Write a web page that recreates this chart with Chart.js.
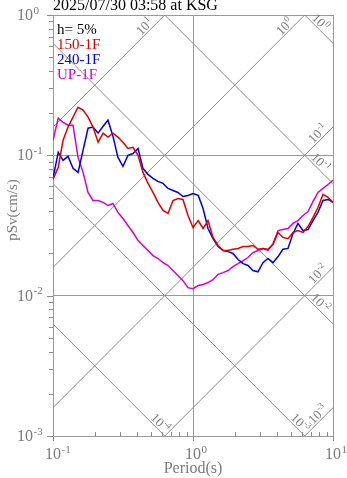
<!DOCTYPE html>
<html>
<head>
<meta charset="utf-8">
<script src="https://cdn.jsdelivr.net/npm/chart.js@4/dist/chart.umd.min.js"></script>
<style>
  body { margin: 0; background: #fff; }
  #wrap { width: 347px; height: 478px; }
</style>
</head>
<body>
<div id="wrap"><canvas id="espectro" width="347" height="478"></canvas></div>
<script>
// Período (s)
const periodos = [0.100, 0.109, 0.118, 0.128, 0.139, 0.151, 0.164, 0.178, 0.193, 0.210,
  0.228, 0.247, 0.268, 0.291, 0.316, 0.343, 0.373, 0.405, 0.439, 0.477,
  0.518, 0.562, 0.611, 0.663, 0.720, 0.781, 0.848, 0.921, 1.00, 1.09,
  1.18, 1.28, 1.39, 1.51, 1.64, 1.78, 1.93, 2.10, 2.28, 2.47,
  2.68, 2.91, 3.16, 3.43, 3.73, 4.05, 4.39, 4.77, 5.18, 5.62,
  6.11, 6.63, 7.20, 7.81, 8.48, 9.21, 10.0];

// pSv (cm/s) de cada componente, h = 5%
const sv150 = [0.0674, 0.0821, 0.128, 0.159, 0.187, 0.220, 0.210, 0.187, 0.159, 0.124,
  0.144, 0.135, 0.144, 0.135, 0.124, 0.112, 0.114, 0.100, 0.0756, 0.0631,
  0.0544, 0.0462, 0.0405, 0.0385, 0.0477, 0.0493, 0.0485, 0.0373, 0.0306, 0.0343,
  0.0301, 0.0343, 0.0260, 0.0228, 0.0210, 0.0210, 0.0214, 0.0217, 0.0224, 0.0224,
  0.0228, 0.0214, 0.0217, 0.0214, 0.0231, 0.0282, 0.0260, 0.0255, 0.0282, 0.0291,
  0.0282, 0.0311, 0.0361, 0.0425, 0.0527, 0.0501, 0.0462];
const sv240 = [0.0685, 0.105, 0.0921, 0.0984, 0.0808, 0.0756, 0.109, 0.156, 0.159, 0.144,
  0.161, 0.178, 0.137, 0.0967, 0.0834, 0.100, 0.103, 0.112, 0.0808, 0.0732,
  0.0685, 0.0652, 0.0631, 0.0581, 0.0562, 0.0544, 0.0509, 0.0518, 0.0535, 0.0518,
  0.0418, 0.0301, 0.0255, 0.0224, 0.0210, 0.0206, 0.0200, 0.0181, 0.0169, 0.0164,
  0.0151, 0.0148, 0.0172, 0.0184, 0.0172, 0.0190, 0.0214, 0.0217, 0.0277, 0.0327,
  0.0291, 0.0296, 0.0343, 0.0392, 0.0477, 0.0485, 0.0462];
const svUP = [0.128, 0.184, 0.172, 0.164, 0.164, 0.0967, 0.0756, 0.0544, 0.0477, 0.0477,
  0.0462, 0.0439, 0.0454, 0.0392, 0.0355, 0.0316, 0.0282, 0.0247, 0.0228, 0.0210,
  0.0193, 0.0184, 0.0172, 0.0164, 0.0151, 0.0139, 0.0128, 0.0114, 0.0112, 0.0118,
  0.0120, 0.0124, 0.0130, 0.0142, 0.0146, 0.0151, 0.0161, 0.0169, 0.0178, 0.0187,
  0.0203, 0.0210, 0.0217, 0.0210, 0.0235, 0.0291, 0.0296, 0.0301, 0.0327, 0.0343,
  0.0373, 0.0398, 0.0470, 0.0544, 0.0581, 0.0620, 0.0663];

const titulo = '2025/07/30 03:58 at KSG';
const amortecimento = 'h= 5%';
const tituloX = 'Period(s)';
const tituloY = 'pSv(cm/s)';

// Expoentes das décadas nos eixos
const decadasX = [-1, 0, 1];
const decadasY = [-3, -2, -1, 0];
// Linhas diagonais: aceleração (cm/s²) e deslocamento (cm), em potências de 10
const expAceleracao = [1, 0, -1, -2, -3];
const expDeslocamento = [0, -1, -2, -3, -4];

const CINZA = '#8a8a8a';
const TEXTO_CINZA = '#7a7a7a';
const SERIF = '"Liberation Serif", "DejaVu Serif", serif';
const DOIS_PI = 2 * Math.PI;

// Escreve "10" com o expoente sobrescrito; (x, y) = linha de base do "10"
function potencia(ctx, exp, x, y, tam, tamSup, alinhar) {
  ctx.font = `${tam}px ${SERIF}`;
  const wBase = ctx.measureText('10').width;
  ctx.font = `${tamSup}px ${SERIF}`;
  const wSup = ctx.measureText(String(exp)).width;
  let x0 = x;
  if (alinhar === 'centro-base') x0 = x - wBase / 2;
  else if (alinhar === 'direita-base') x0 = x - wBase;
  else if (alinhar === 'centro') x0 = x - (wBase + wSup) / 2;
  ctx.textAlign = 'left';
  ctx.textBaseline = 'alphabetic';
  ctx.font = `${tam}px ${SERIF}`;
  ctx.fillText('10', x0, y);
  ctx.font = `${tamSup}px ${SERIF}`;
  ctx.fillText(String(exp), x0 + wBase + 0.5, y - tam * 0.4);
}

// Linhas de aceleração e deslocamento constantes (gráfico tripartite)
const tripartite = {
  id: 'tripartite',
  beforeDatasetsDraw(chart) {
    const { ctx, chartArea: a, scales: { x, y } } = chart;
    ctx.save();
    ctx.beginPath();
    ctx.rect(a.left, a.top, a.right - a.left, a.bottom - a.top);
    ctx.clip();
    ctx.strokeStyle = CINZA;
    ctx.lineWidth = 1;
    const t1 = 0.01, t2 = 100;
    expAceleracao.forEach(e => {
      const sa = Math.pow(10, e);
      ctx.beginPath();
      ctx.moveTo(x.getPixelForValue(t1), y.getPixelForValue(sa * t1 / DOIS_PI));
      ctx.lineTo(x.getPixelForValue(t2), y.getPixelForValue(sa * t2 / DOIS_PI));
      ctx.stroke();
    });
    expDeslocamento.forEach(e => {
      const sd = Math.pow(10, e);
      ctx.beginPath();
      ctx.moveTo(x.getPixelForValue(t1), y.getPixelForValue(DOIS_PI * sd / t1));
      ctx.lineTo(x.getPixelForValue(t2), y.getPixelForValue(DOIS_PI * sd / t2));
      ctx.stroke();
    });
    ctx.restore();
  },
  afterDraw(chart) {
    const { ctx, chartArea: a, scales: { x, y } } = chart;
    ctx.save();
    ctx.strokeStyle = CINZA;
    ctx.lineWidth = 1;

    // marcas do eixo Y (por fora) e do eixo X (menores para dentro)
    ctx.beginPath();
    decadasY.forEach(e => {
      const d = Math.pow(10, e);
      const py = Math.round(y.getPixelForValue(d)) + 0.5;
      ctx.moveTo(a.left - 6, py); ctx.lineTo(a.left, py);
      if (e < 0) {
        for (let m = 2; m <= 9; m++) {
          const pm = Math.round(y.getPixelForValue(m * d)) + 0.5;
          ctx.moveTo(a.left - 4, pm); ctx.lineTo(a.left, pm);
        }
      }
    });
    decadasX.forEach(e => {
      const d = Math.pow(10, e);
      const px = Math.round(x.getPixelForValue(d)) + 0.5;
      ctx.moveTo(px, a.bottom); ctx.lineTo(px, a.bottom + 5);
      if (e < 1) {
        for (let m = 2; m <= 9; m++) {
          const pm = Math.round(x.getPixelForValue(m * d)) + 0.5;
          ctx.moveTo(pm, a.bottom); ctx.lineTo(pm, a.bottom - 4);
        }
      }
    });
    ctx.stroke();

    // rótulos dos eixos
    ctx.fillStyle = TEXTO_CINZA;
    decadasY.forEach(e => {
      const py = y.getPixelForValue(Math.pow(10, e));
      potencia(ctx, e, 33, py + 5, 16, 11, 'direita-base');
    });
    decadasX.forEach(e => {
      const px = x.getPixelForValue(Math.pow(10, e));
      potencia(ctx, e, px, 459, 16, 11, 'centro-base');
    });

    ctx.font = `16px ${SERIF}`;
    ctx.textAlign = 'center';
    ctx.textBaseline = 'alphabetic';
    ctx.fillText(tituloX, (a.left + a.right) / 2, 473);
    ctx.save();
    ctx.translate(17, 210);
    ctx.rotate(-Math.PI / 2);
    ctx.font = `15px ${SERIF}`;
    ctx.fillText(tituloY, 0, 0);
    ctx.restore();

    // rótulos das linhas diagonais
    const off = 6 / Math.SQRT2;
    ctx.fillStyle = TEXTO_CINZA;
    expAceleracao.forEach(e => {
      const sa = Math.pow(10, e);
      let tSai = 10, lado = 'direita';
      if (sa * 10 / DOIS_PI > 1) { tSai = DOIS_PI / sa; lado = 'topo'; }
      const ex = x.getPixelForValue(tSai);
      const ey = y.getPixelForValue(sa * tSai / DOIS_PI);
      const b = lado === 'topo' ? 16 : 11;
      ctx.save();
      ctx.translate(ex - b - off, ey + b - off);
      ctx.rotate(-Math.PI / 4);
      potencia(ctx, e, 0, 4, 13, 9, 'centro');
      ctx.restore();
    });
    expDeslocamento.forEach(e => {
      const sd = Math.pow(10, e);
      let tSai = 10, lado = 'direita';
      if (DOIS_PI * sd / 10 < 0.001) { tSai = DOIS_PI * sd / 0.001; lado = 'base'; }
      const ex = x.getPixelForValue(tSai);
      const ey = y.getPixelForValue(DOIS_PI * sd / tSai);
      const b = lado === 'base' ? 9 : 17;
      ctx.save();
      ctx.translate(ex - b + off, ey - b - off);
      ctx.rotate(Math.PI / 4);
      potencia(ctx, e, 0, 4, 13, 9, 'centro');
      ctx.restore();
    });

    // título e legenda
    ctx.textAlign = 'left';
    ctx.textBaseline = 'alphabetic';
    ctx.font = `16px ${SERIF}`;
    ctx.fillStyle = '#000';
    ctx.fillText(titulo, a.left, 10);
    ctx.font = `15px ${SERIF}`;
    ctx.fillText(amortecimento, a.left + 4, 34);
    chart.data.datasets.forEach((ds, i) => {
      ctx.fillStyle = ds.borderColor;
      ctx.fillText(ds.label, a.left + 4, 49 + 15 * i);
    });
    ctx.restore();
  }
};

function serie(valores) {
  return periodos.map((t, i) => ({ x: t, y: valores[i] }));
}

const escalaLog = (min, max, decadas) => ({
  type: 'logarithmic',
  min: min,
  max: max,
  afterBuildTicks: (escala) => {
    escala.ticks = decadas.map(e => ({ value: Math.pow(10, e) }));
  },
  ticks: { display: false },
  grid: { color: '#999', lineWidth: 1, drawTicks: false },
  border: { display: false }
});

new Chart(document.getElementById('espectro').getContext('2d'), {
  type: 'scatter',
  data: {
    datasets: [
      { label: '150-1F', data: serie(sv150), borderColor: 'rgb(225,0,0)' },
      { label: '240-1F', data: serie(sv240), borderColor: 'rgb(0,0,225)' },
      { label: 'UP-1F', data: serie(svUP), borderColor: 'rgb(210,0,210)' }
    ].map(ds => Object.assign(ds, {
      showLine: true, borderWidth: 1.5, pointRadius: 0, tension: 0, fill: false
    }))
  },
  options: {
    responsive: false,
    devicePixelRatio: 1,
    animation: false,
    layout: { padding: { left: 53, top: 15, right: 14, bottom: 42 } },
    plugins: { legend: { display: false }, tooltip: { enabled: false } },
    scales: {
      x: escalaLog(0.1, 10, decadasX),
      y: escalaLog(0.001, 1, decadasY)
    }
  },
  plugins: [tripartite]
});
</script>
</body>
</html>
